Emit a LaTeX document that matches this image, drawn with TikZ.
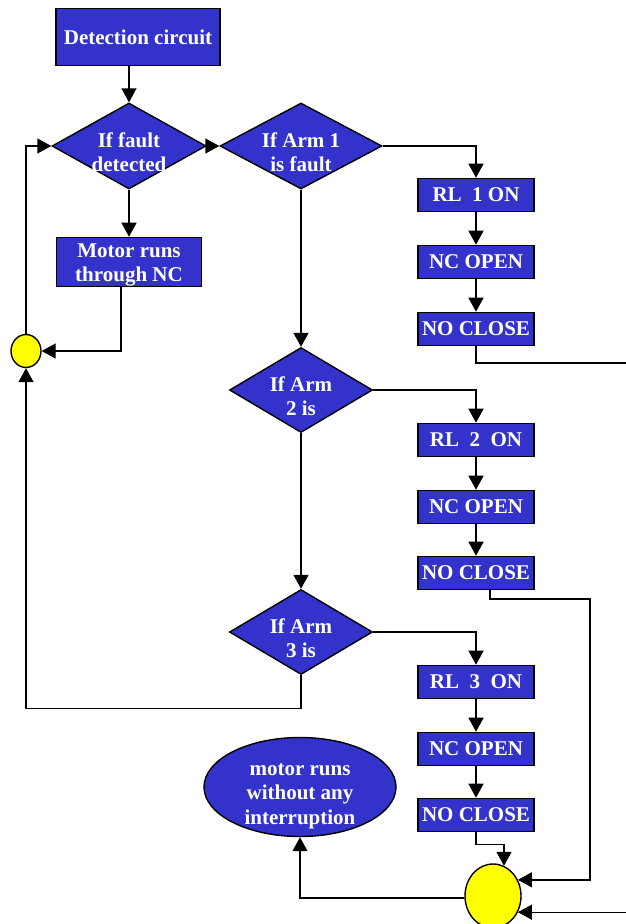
\documentclass[tikz,border=0pt]{standalone}
\usepackage{fontspec}
\setmainfont{Liberation Serif}
\usetikzlibrary{shapes.geometric,arrows.meta}
\definecolor{boxblue}{RGB}{51,51,204}
\definecolor{joinyellow}{RGB}{255,255,0}

\begin{document}
\begin{tikzpicture}[x=1pt, y=-1pt]
	\tikzstyle{every node}=[font=\fontsize{21}{24.5}\selectfont\bfseries, text=white]
	\tikzstyle{block}=[draw, line width=1.6pt, fill=boxblue, inner sep=0pt, align=center]
	\tikzstyle{relay}=[block, minimum width=116, minimum height=33]
	\tikzstyle{decision}=[draw, line width=1.4pt, fill=boxblue, diamond, inner sep=0pt]
	\tikzstyle{junction}=[draw, line width=1.4pt, fill=joinyellow, ellipse, inner sep=0pt]
	\tikzstyle{flow}=[line width=1.4pt, -{Triangle[length=14pt,width=15pt]}]

	\useasboundingbox (0,0) rectangle (625,924);

	%left column
	\node[block, minimum width=164, minimum height=57] (det) at (138,37) {Detection circuit};
	\node[decision, minimum width=154, minimum height=86,
		label={[align=center, yshift=-6pt]center:{If fault\\detected}}] (fault) at (129,146) {};
	\node[block, minimum width=145, minimum height=49,
		label={[align=center, yshift=-3pt]center:{Motor runs\\through NC}}] (nc) at (129,262) {};
	\node[junction, minimum width=30, minimum height=33] (join1) at (26,351) {};

	%arm checks
	\node[decision, minimum width=162, minimum height=86,
		label={[align=center, yshift=-6pt]center:{If Arm 1\\is fault}}] (arm1) at (301,146) {};
	\node[decision, minimum width=143, minimum height=85,
		label={[align=center, yshift=-6pt]center:{If Arm\\2 is}}] (arm2) at (301,390) {};
	\node[decision, minimum width=143, minimum height=85,
		label={[align=center, yshift=-6pt]center:{If Arm\\3 is}}] (arm3) at (301,632) {};

	%relays
	\node[relay] (rl1) at (476,195) {RL~ 1 ON};
	\node[relay] (open1) at (476,262) {NC OPEN};
	\node[relay] (close1) at (476,329) {NO CLOSE};
	\node[relay] (rl2) at (476,440) {RL~ 2~ ON};
	\node[relay] (open2) at (476,507) {NC OPEN};
	\node[relay] (close2) at (476,573) {NO CLOSE};
	\node[relay] (rl3) at (476,682) {RL~ 3~ ON};
	\node[relay] (open3) at (476,749) {NC OPEN};
	\node[relay] (close3) at (476,815) {NO CLOSE};

	%end
	\node[draw, line width=1.4pt, fill=boxblue, ellipse, inner sep=0pt,
		minimum width=192, minimum height=99,
		label={[align=center, yshift=-9pt]center:{motor runs\\without any\\interruption}}] (normal) at (300,787) {};
	\node[junction, minimum width=56, minimum height=64] (join2) at (493,896) {};

	%links
	\draw[flow] (fault.north |- det.south) -- (fault.north);
	\draw[flow] (fault.south) -- (nc.north);
	\draw[flow] ([xshift=-8pt]nc.south) |- (join1.east);
	\draw[flow] (join1.north) |- (fault.west);
	\draw[flow] (fault.east) -- (arm1.west);
	\draw[flow] (arm1.south) -- (arm2.north);
	\draw[flow] (arm2.south) -- (arm3.north);
	\draw[flow] (arm3.south) -- ++(0,33) -| (join1.south);
	\foreach \i in {1,2,3} {
		\draw[flow] (arm\i.east) -| (rl\i.north);
		\draw[flow] (rl\i) -- (open\i);
		\draw[flow] (open\i) -- (close\i);
	}
	\draw[flow] (close1.south) |- (645,363) |- (join2.-33);
	\draw[flow] ([xshift=14pt]close2.south) |- (590,599) |- (join2.33);
	\draw[flow] (close3.south) -- ++(0,12) -| (join2.70);
	\draw[flow] (join2.184) -| (normal.south);
\end{tikzpicture}
\end{document}
